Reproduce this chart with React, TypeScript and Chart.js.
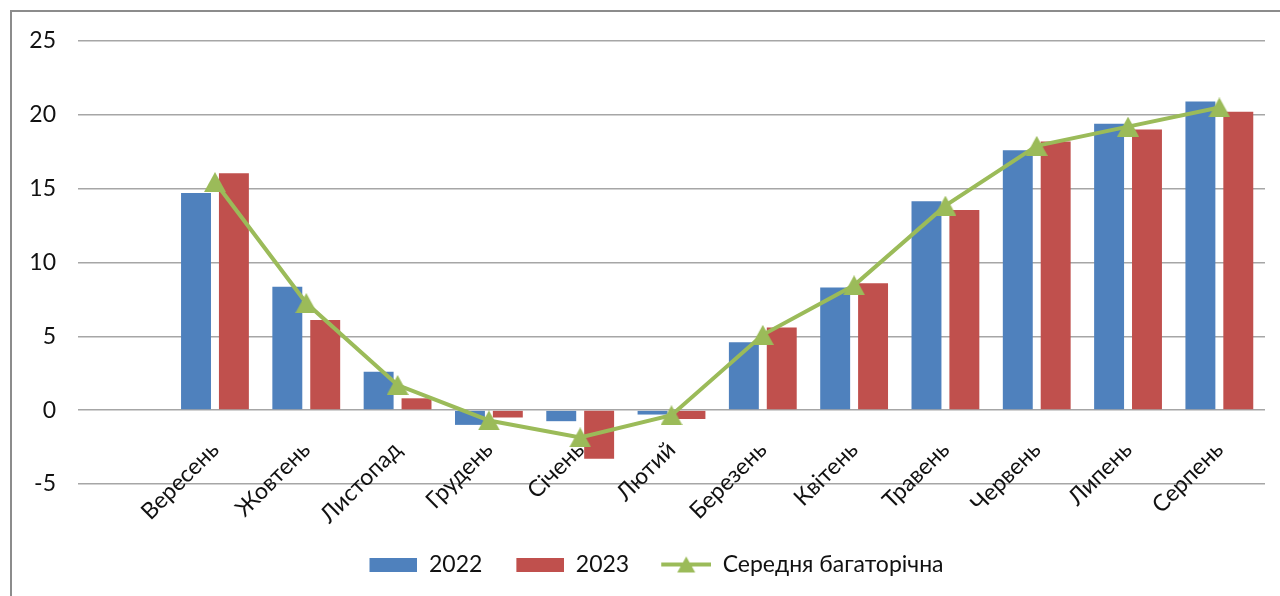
import React, { useEffect, useRef } from 'react';
import { Chart, registerables } from 'chart.js';

Chart.register(...registerables);

// Months of the hydrological year; the first slot is intentionally blank.
const months = ['', 'Вересень', 'Жовтень', 'Листопад', 'Грудень', 'Січень', 'Лютий', 'Березень', 'Квітень', 'Травень', 'Червень', 'Липень', 'Серпень'];
const temp2022 = [null, 14.7, 8.35, 2.6, -1.0, -0.75, -0.3, 4.6, 8.3, 14.15, 17.6, 19.4, 20.9];
const temp2023 = [null, 16.05, 6.1, 0.8, -0.5, -3.3, -0.6, 5.6, 8.6, 13.55, 18.2, 19.0, 20.2];
const longTermMean = [null, 15.45, 7.25, 1.7, -0.7, -1.85, -0.35, 5.1, 8.45, 13.85, 17.9, 19.2, 20.5];
const yTicks = [-5, 0, 5, 10, 15, 20, 25];

const BLUE = '#4F81BD';
const RED = '#C0504D';
const GREEN = '#9BBB59';
const TEXT = '#111111';
const FONT = { family: 'Lato, "Open Sans", sans-serif', size: 23 };

const PAD_LEFT = 22;
const PLOT_LEFT = 78;

function makeCanvas(w: number, h: number) {
  const c = document.createElement('canvas');
  c.width = w;
  c.height = h;
  return c;
}

// Triangle marker centred on its bounding box.
function triangleIcon(w: number, h: number, color: string) {
  const c = makeCanvas(w, h);
  const ctx = c.getContext('2d')!;
  ctx.fillStyle = color;
  ctx.beginPath();
  ctx.moveTo(w / 2, 0);
  ctx.lineTo(w, h);
  ctx.lineTo(0, h);
  ctx.closePath();
  ctx.fill();
  return c;
}

// Legend swatch for a bar series (left part kept transparent as spacing).
function barSwatch(color: string) {
  const c = makeCanvas(72, 14);
  const ctx = c.getContext('2d')!;
  ctx.fillStyle = color;
  ctx.fillRect(24, 0, 48, 14);
  return c;
}

// Legend swatch for the line series: a stroke with a triangle in the middle.
function lineSwatch(color: string) {
  const c = makeCanvas(72, 20);
  const ctx = c.getContext('2d')!;
  ctx.strokeStyle = color;
  ctx.lineWidth = 4;
  ctx.beginPath();
  ctx.moveTo(22, 10);
  ctx.lineTo(72, 10);
  ctx.stroke();
  ctx.fillStyle = color;
  ctx.beginPath();
  ctx.moveTo(47, 2);
  ctx.lineTo(56, 18);
  ctx.lineTo(38, 18);
  ctx.closePath();
  ctx.fill();
  return c;
}

const framePlugin = {
  id: 'frame',
  beforeDraw(chart: any) {
    const { ctx } = chart;
    ctx.save();
    ctx.strokeStyle = '#8c8c8c';
    ctx.lineWidth = 2;
    ctx.strokeRect(11, 11, chart.width + 40, chart.height + 40);
    ctx.restore();
  },
};

export default function App() {
  const canvasRef = useRef<HTMLCanvasElement>(null);

  useEffect(() => {
    document.body.style.margin = '0';
    const canvas = canvasRef.current;
    if (!canvas) return;

    const marker = triangleIcon(22, 20, GREEN);
    const swatches = [barSwatch(BLUE), barSwatch(RED), lineSwatch(GREEN)];

    const chart = new Chart(canvas, {
      type: 'bar',
      data: {
        labels: months,
        datasets: [
          {
            type: 'line',
            label: 'Середня багаторічна',
            data: longTermMean,
            borderColor: GREEN,
            backgroundColor: GREEN,
            borderWidth: 4,
            tension: 0,
            pointStyle: marker as any,
            pointRadius: 11,
            order: 0,
          },
          {
            type: 'bar',
            label: '2022',
            data: temp2022,
            backgroundColor: BLUE,
            categoryPercentage: 0.83,
            barPercentage: 0.79,
            order: 1,
          },
          {
            type: 'bar',
            label: '2023',
            data: temp2023,
            backgroundColor: RED,
            categoryPercentage: 0.83,
            barPercentage: 0.79,
            order: 1,
          },
        ] as any,
      },
      options: {
        responsive: false,
        animation: false,
        layout: { padding: { top: 41, right: 13, bottom: 10, left: PAD_LEFT } },
        scales: {
          x: {
            // category labels hang from the zero line
            position: { y: 0 },
            grid: { display: false, drawTicks: false },
            border: { display: false },
            ticks: {
              autoSkip: false,
              minRotation: 45,
              maxRotation: 45,
              padding: 26,
              font: FONT,
              color: TEXT,
            },
            afterFit: (s: any) => {
              s.height = 0;
            },
          },
          y: {
            min: -9,
            max: 25,
            afterBuildTicks: (s: any) => {
              s.ticks = yTicks.map((v) => ({ value: v }));
            },
            grid: { color: '#a6a6a6', lineWidth: 1.5, drawTicks: false },
            border: { display: false },
            ticks: { padding: 22, font: FONT, color: TEXT },
            afterFit: (s: any) => {
              s.width = PLOT_LEFT - PAD_LEFT;
            },
          },
        },
        plugins: {
          tooltip: { enabled: false },
          legend: {
            position: 'bottom',
            labels: {
              usePointStyle: true,
              pointStyleWidth: 72,
              padding: 10,
              font: FONT,
              color: TEXT,
              generateLabels: (c: any) =>
                [1, 2, 0].map((di, i) => ({
                  text: c.data.datasets[di].label,
                  pointStyle: swatches[i],
                  fillStyle: c.data.datasets[di].backgroundColor,
                  strokeStyle: c.data.datasets[di].backgroundColor,
                  lineWidth: 0,
                  hidden: false,
                  datasetIndex: di,
                  fontColor: TEXT,
                })),
            },
          },
        },
      } as any,
      plugins: [framePlugin],
    });

    return () => chart.destroy();
  }, []);

  return (
    <div style={{ width: 1280, height: 596, background: '#fff' }}>
      <canvas ref={canvasRef} width={1280} height={596} />
    </div>
  );
}
